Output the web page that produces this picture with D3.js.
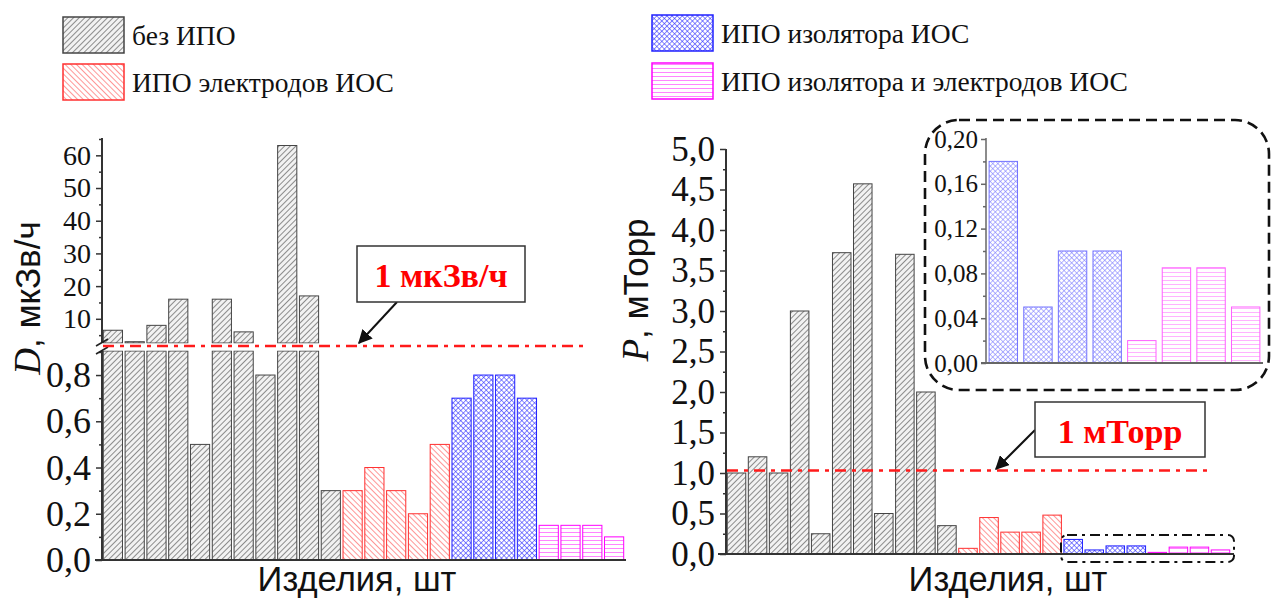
<!DOCTYPE html>
<html>
<head>
<meta charset="utf-8">
<script src="https://cdn.jsdelivr.net/npm/d3@7"></script>
<style>
  body { margin: 0; background: #fff; }
  svg { display: block; }
  .serif { font-family: "Liberation Serif", "Times New Roman", serif; }
  .sans { font-family: "Liberation Sans", Arial, sans-serif; }
  .axis path, .axis line { stroke: #333; }
  .axis path { stroke-width: 2; }
  .axis line { stroke-width: 1.5; }
  .axis text { fill: #111; font-family: "Liberation Serif", "Times New Roman", serif; }
</style>
</head>
<body>
<svg id="chart"></svg>
<script>
const width = 1273;
const height = 601;

// Legend / groups
const groupNames = ['без ИПО', 'ИПО электродов ИОС', 'ИПО изолятора ИОС', 'ИПО изолятора и электродов ИОС'];

// Dose rate D, мкЗв/ч (left panel)
const doseGray = [6.5, 3, 8, 16, 0.5, 16, 6, 0.8, 63, 17, 0.3];
const doseRed = [0.3, 0.4, 0.3, 0.2, 0.5];
const doseBlue = [0.7, 0.8, 0.8, 0.7];
const doseMagenta = [0.15, 0.15, 0.15, 0.1];

// Pressure P, мТорр (right panel)
const pressGray = [1.0, 1.2, 1.0, 3.0, 0.25, 3.72, 4.57, 0.5, 3.7, 2.0, 0.35];
const pressRed = [0.07, 0.45, 0.27, 0.27, 0.48];
const pressBlue = [0.18, 0.05, 0.10, 0.10];
const pressMagenta = [0.02, 0.085, 0.085, 0.05];

// Limits
const doseLimit = 1;       // мкЗв/ч (drawn at the axis break)
const pressLimit = 1.03;

// Tick values
const upperTicks = [10, 20, 30, 40, 50, 60];
const upperMinor = [5, 15, 25, 35, 45, 55, 65];
const lowerTicks = [0, 0.2, 0.4, 0.6, 0.8];
const lowerMinor = [0.1, 0.3, 0.5, 0.7, 0.9];
const pressTicks = [0, 0.5, 1, 1.5, 2, 2.5, 3, 3.5, 4, 4.5, 5];
const pressMinor = [0.25, 0.75, 1.25, 1.75, 2.25, 2.75, 3.25, 3.75, 4.25, 4.75];
const insetTicks = [0, 0.04, 0.08, 0.12, 0.16, 0.2];
const insetMinor = [0.02, 0.06, 0.1, 0.14, 0.18];

const groupStyle = [
    {fill: 'url(#hatchGray)', stroke: '#444'},
    {fill: 'url(#hatchRed)', stroke: '#ff3030'},
    {fill: 'url(#hatchBlue)', stroke: '#2020ff'},
    {fill: 'url(#hatchMagenta)', stroke: '#ff00ff'}
];

function tagged(arrays) {
    const out = [];
    arrays.forEach((arr, g) => arr.forEach(v => out.push({g, v})));
    return out.map((d, i) => ({...d, i}));
}

const doseData = tagged([doseGray, doseRed, doseBlue, doseMagenta]);
const pressData = tagged([pressGray, pressRed, pressBlue, pressMagenta]);
const insetData = tagged([[], [], pressBlue, pressMagenta]);

const comma = f => v => d3.format(f)(v).replace('.', ',');

const svg = d3.select("#chart")
    .attr("width", width)
    .attr("height", height);

// Patterns
const defs = svg.append("defs");

function linePattern(id, color, bg, angle, step, sw) {
    const p = defs.append("pattern")
        .attr("id", id)
        .attr("patternUnits", "userSpaceOnUse")
        .attr("width", step).attr("height", step)
        .attr("patternTransform", `rotate(${angle})`);
    p.append("rect").attr("width", step).attr("height", step).attr("fill", bg);
    p.append("line").attr("x1", 0).attr("y1", 0).attr("x2", 0).attr("y2", step)
        .attr("stroke", color).attr("stroke-width", sw);
    return p;
}
linePattern("hatchGray", "#555", "#f2f2f2", 45, 4, 1.3);
linePattern("hatchRed", "#ff4040", "#fff", -45, 4, 1.1);
linePattern("hatchMagenta", "#ff20ff", "#fff", 90, 4, 1.1);
const cross = linePattern("hatchBlue", "#2a2aff", "#fff", 45, 3.6, 1.1);
cross.append("line").attr("x1", 0).attr("y1", 0).attr("x2", 3.6).attr("y2", 0)
    .attr("stroke", "#2a2aff").attr("stroke-width", 1.1);

defs.append("marker")
    .attr("id", "arrow")
    .attr("viewBox", "0 0 10 10")
    .attr("refX", 9).attr("refY", 5)
    .attr("markerWidth", 14).attr("markerHeight", 14)
    .attr("markerUnits", "userSpaceOnUse")
    .attr("orient", "auto")
    .append("path").attr("d", "M0,0 L10,5 L0,10 z").attr("fill", "#111");

// ---------- Legend ----------
const legendItems = [
    {g: 0, x: 63, y: 17}, {g: 1, x: 63, y: 64},
    {g: 2, x: 652, y: 15}, {g: 3, x: 652, y: 63}
];
const legend = svg.append("g");
legendItems.forEach(d => {
    legend.append("rect")
        .attr("x", d.x).attr("y", d.y)
        .attr("width", 61).attr("height", 36)
        .attr("fill", groupStyle[d.g].fill)
        .attr("stroke", groupStyle[d.g].stroke)
        .attr("stroke-width", 1.5);
    legend.append("text")
        .attr("class", "serif")
        .attr("x", d.x + 69).attr("y", d.y + 28)
        .style("font-size", "27.5px")
        .attr("fill", "#111")
        .text(groupNames[d.g]);
});

// ---------- Left panel: dose rate with broken axis ----------
const xL = d3.scaleBand()
    .domain(doseData.map(d => d.i))
    .range([102, 625])
    .paddingInner(0.12).paddingOuter(0.06);
const yLow = d3.scaleLinear().domain([0, 0.904]).range([560, 351]);
const yUp = d3.scaleLinear().domain([2.6, 65.3]).range([343, 138]);
const breakY = 346;

const left = svg.append("g");

doseData.forEach(d => {
    const st = groupStyle[d.g];
    const lowTop = d.v > yLow.domain()[1] ? yLow.domain()[1] : d.v;
    left.append("rect")
        .attr("x", xL(d.i)).attr("width", xL.bandwidth())
        .attr("y", yLow(lowTop)).attr("height", yLow(0) - yLow(lowTop))
        .attr("fill", st.fill).attr("stroke", st.stroke).attr("stroke-width", 1);
    if (d.v > yUp.domain()[0]) {
        left.append("rect")
            .attr("x", xL(d.i)).attr("width", xL.bandwidth())
            .attr("y", yUp(d.v)).attr("height", yUp(yUp.domain()[0]) - yUp(d.v))
            .attr("fill", st.fill).attr("stroke", st.stroke).attr("stroke-width", 1);
    }
});

// axes
left.append("g").attr("class", "axis")
    .attr("transform", "translate(102,0)")
    .call(d3.axisLeft(yUp).tickValues(upperTicks).tickSize(6).tickPadding(5).tickFormat(d3.format("d")))
    .call(g => g.selectAll("text").style("font-size", "28px"))
    .call(g => g.select(".domain").attr("d", `M0,${yUp(65.3)}V${yUp(yUp.domain()[0])}`));
left.append("g").attr("class", "axis")
    .attr("transform", "translate(102,0)")
    .call(d3.axisLeft(yUp).tickValues(upperMinor).tickSize(3).tickFormat(""))
    .call(g => g.select(".domain").remove());
left.append("g").attr("class", "axis")
    .attr("transform", "translate(102,0)")
    .call(d3.axisLeft(yLow).tickValues(lowerTicks).tickSize(6).tickPadding(5).tickFormat(comma(".1f")))
    .call(g => g.selectAll("text").style("font-size", "36px"))
    .call(g => g.select(".domain").attr("d", `M0,${yLow(0.904)}V${yLow(0)}`));
left.append("g").attr("class", "axis")
    .attr("transform", "translate(102,0)")
    .call(d3.axisLeft(yLow).tickValues(lowerMinor).tickSize(3).tickFormat(""))
    .call(g => g.select(".domain").remove());

// baseline
left.append("line")
    .attr("x1", 95).attr("x2", 626)
    .attr("y1", yLow(0)).attr("y2", yLow(0))
    .attr("stroke", "#333").attr("stroke-width", 2);

// break gap and marks
left.append("rect")
    .attr("x", 100).attr("width", 530)
    .attr("y", yUp(yUp.domain()[0]) + 0.5).attr("height", yLow(0.904) - yUp(yUp.domain()[0]) - 1)
    .attr("fill", "#fff");
[0, 8].forEach(off => {
    left.append("line")
        .attr("x1", 96).attr("y1", 346 + off)
        .attr("x2", 108).attr("y2", 339 + off)
        .attr("stroke", "#222").attr("stroke-width", 1.6);
});

// limit line
left.append("line")
    .attr("x1", 103).attr("x2", 586)
    .attr("y1", breakY).attr("y2", breakY)
    .attr("stroke", "#ff1a1a").attr("stroke-width", 2.6)
    .attr("stroke-dasharray", "11,6,4,6");

// annotation
left.append("line")
    .attr("x1", 397).attr("y1", 302).attr("x2", 359).attr("y2", 343)
    .attr("stroke", "#111").attr("stroke-width", 2)
    .attr("marker-end", "url(#arrow)");
left.append("rect")
    .attr("x", 357).attr("y", 246).attr("width", 168).attr("height", 56)
    .attr("fill", "#fff").attr("stroke", "#333").attr("stroke-width", 1.5);
left.append("text")
    .attr("class", "serif")
    .attr("x", 441).attr("y", 287)
    .attr("text-anchor", "middle")
    .style("font-size", "34px").style("font-weight", "bold")
    .attr("fill", "#ff0000")
    .text(`${doseLimit} мкЗв/ч`);

// axis titles
left.append("text")
    .attr("transform", "translate(40,298) rotate(-90)")
    .attr("text-anchor", "middle")
    .attr("fill", "#111")
    .call(t => {
        t.append("tspan").attr("class", "serif").style("font-style", "italic").style("font-size", "37px").text("D");
        t.append("tspan").attr("class", "sans").style("font-size", "35px").text(", мкЗв/ч");
    });
left.append("text")
    .attr("class", "sans")
    .attr("x", 357).attr("y", 591)
    .attr("text-anchor", "middle")
    .style("font-size", "34.5px")
    .attr("fill", "#111")
    .text("Изделия, шт");

// ---------- Right panel: pressure ----------
const xR = d3.scaleBand()
    .domain(pressData.map(d => d.i))
    .range([726, 1231])
    .paddingInner(0.12).paddingOuter(0.06);
const yR = d3.scaleLinear().domain([0, 5]).range([554, 149]);

const right = svg.append("g");

right.selectAll(".bar")
    .data(pressData)
    .enter()
    .append("rect")
    .attr("class", "bar")
    .attr("x", d => xR(d.i)).attr("width", xR.bandwidth())
    .attr("y", d => yR(d.v)).attr("height", d => yR(0) - yR(d.v))
    .attr("fill", d => groupStyle[d.g].fill)
    .attr("stroke", d => groupStyle[d.g].stroke)
    .attr("stroke-width", 1);

right.append("g").attr("class", "axis")
    .attr("transform", "translate(726,0)")
    .call(d3.axisLeft(yR).tickValues(pressTicks).tickSize(6).tickPadding(5).tickFormat(comma(".1f")))
    .call(g => g.selectAll("text").style("font-size", "35px"))
    .call(g => g.select(".domain").attr("d", `M0,${yR(5)}V${yR(0)}`));
right.append("g").attr("class", "axis")
    .attr("transform", "translate(726,0)")
    .call(d3.axisLeft(yR).tickValues(pressMinor).tickSize(3).tickFormat(""))
    .call(g => g.select(".domain").remove());
right.append("line")
    .attr("x1", 718).attr("x2", 1234)
    .attr("y1", yR(0)).attr("y2", yR(0))
    .attr("stroke", "#333").attr("stroke-width", 2);

right.append("line")
    .attr("x1", 727).attr("x2", 1212)
    .attr("y1", yR(pressLimit)).attr("y2", yR(pressLimit))
    .attr("stroke", "#ff1a1a").attr("stroke-width", 2.6)
    .attr("stroke-dasharray", "11,6,4,6");

right.append("line")
    .attr("x1", 1035).attr("y1", 430).attr("x2", 996).attr("y2", 469)
    .attr("stroke", "#111").attr("stroke-width", 2)
    .attr("marker-end", "url(#arrow)");
right.append("rect")
    .attr("x", 1035).attr("y", 402).attr("width", 170).attr("height", 55)
    .attr("fill", "#fff").attr("stroke", "#333").attr("stroke-width", 1.5);
right.append("text")
    .attr("class", "serif")
    .attr("x", 1120).attr("y", 443)
    .attr("text-anchor", "middle")
    .style("font-size", "34px").style("font-weight", "bold")
    .attr("fill", "#ff0000")
    .text("1 мТорр");

// small dash-dot frame around the treated bars
right.append("rect")
    .attr("x", 1061).attr("y", 535).attr("width", 173).attr("height", 27)
    .attr("rx", 6)
    .attr("fill", "none").attr("stroke", "#111").attr("stroke-width", 2)
    .attr("stroke-dasharray", "10,5,3,5");

right.append("text")
    .attr("transform", "translate(648,290) rotate(-90)")
    .attr("text-anchor", "middle")
    .attr("fill", "#111")
    .call(t => {
        t.append("tspan").attr("class", "serif").style("font-style", "italic").style("font-size", "37px").text("P");
        t.append("tspan").attr("class", "sans").style("font-size", "35px").text(", мТорр");
    });
right.append("text")
    .attr("class", "sans")
    .attr("x", 1008).attr("y", 591)
    .attr("text-anchor", "middle")
    .style("font-size", "34.5px")
    .attr("fill", "#111")
    .text("Изделия, шт");

// ---------- Inset ----------
const inset = svg.append("g");
inset.append("rect")
    .attr("x", 925).attr("y", 120).attr("width", 344).attr("height", 270)
    .attr("rx", 34)
    .attr("fill", "#fff").attr("stroke", "#111").attr("stroke-width", 2.6)
    .attr("stroke-dasharray", "11,6");

const xI = d3.scaleBand()
    .domain(insetData.map(d => d.i))
    .range([986, 1263])
    .paddingInner(0.18).paddingOuter(0.09);
const yI = d3.scaleLinear().domain([0, 0.2]).range([363, 139]);

inset.selectAll(".ibar")
    .data(insetData)
    .enter()
    .append("rect")
    .attr("class", "ibar")
    .attr("x", d => xI(d.i)).attr("width", xI.bandwidth())
    .attr("y", d => yI(d.v)).attr("height", d => yI(0) - yI(d.v))
    .attr("fill", d => groupStyle[d.g].fill)
    .attr("stroke", d => groupStyle[d.g].stroke)
    .attr("stroke-width", 1)
    .style("opacity", 0.62);

inset.append("g").attr("class", "axis")
    .attr("transform", "translate(986,0)")
    .call(d3.axisLeft(yI).tickValues(insetTicks).tickSize(5).tickPadding(3).tickFormat(comma(".2f")))
    .call(g => g.selectAll("text").style("font-size", "25px"))
    .call(g => g.select(".domain").attr("d", `M0,${yI(0.2) - 1}V${yI(0)}`).style("stroke-width", 1.5).style("stroke", "#666"))
    .call(g => g.selectAll("line").style("stroke", "#666"));
inset.append("g").attr("class", "axis")
    .attr("transform", "translate(986,0)")
    .call(d3.axisLeft(yI).tickValues(insetMinor).tickSize(3).tickFormat(""))
    .call(g => g.select(".domain").remove())
    .call(g => g.selectAll("line").style("stroke", "#666"));
inset.append("line")
    .attr("x1", 981).attr("x2", 1263)
    .attr("y1", yI(0)).attr("y2", yI(0))
    .attr("stroke", "#666").attr("stroke-width", 1.8);
</script>
</body>
</html>
